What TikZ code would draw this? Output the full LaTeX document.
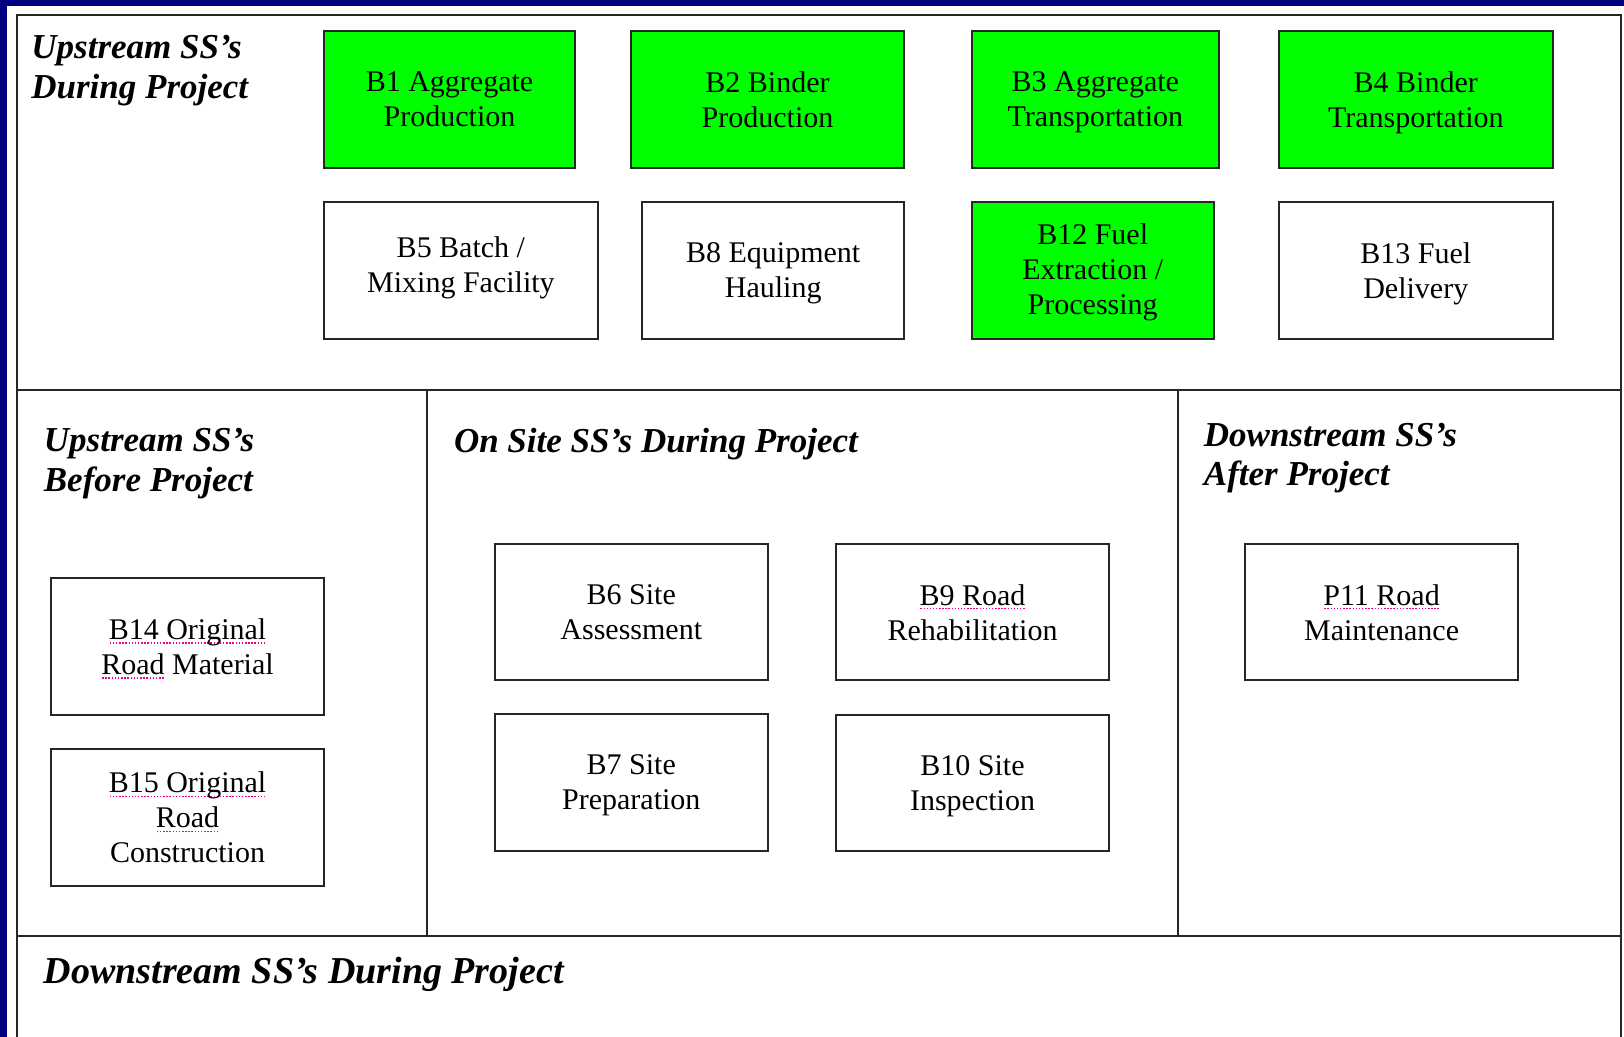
\documentclass[tikz,border=0pt]{standalone}
\usepackage{fontspec}
\setmainfont{Liberation Serif}
\usepackage{tikz}
\usetikzlibrary{calc}

\definecolor{slidenavy}{RGB}{0,0,128}
\definecolor{ssgreen}{RGB}{0,255,0}

% dotted spell-check mark under words
\newsavebox\spellbox
\newcommand\spellmark[1]{\sbox\spellbox{#1}%
	\rlap{\raisebox{-2.2pt}{\textcolor{magenta}{\hbox to\wd\spellbox{\xleaders\hbox{\kern0.4pt\rule{0.75pt}{0.75pt}\kern0.4pt}\hfill}}}}%
	\usebox\spellbox}

\begin{document}
\begin{tikzpicture}[x=0.5pt, y=-0.5pt,
	frame/.style={draw=black!85, line width=1pt},
	ssbox/.style={draw=black!85, line width=1pt, fill=white, align=center,
		minimum height=68.4pt, inner sep=2pt, text depth=0pt,
		font=\fontsize{15}{17.5}\selectfont},
	greenbox/.style={ssbox, fill=ssgreen},
	sstitle/.style={anchor=north west, inner sep=0pt, align=left,
		font=\fontsize{17.5}{19.7}\selectfont\bfseries\itshape}]

	\useasboundingbox (0,0) rectangle (1624,1037);
	\fill[slidenavy] (0,0) rectangle (1624,1037);
	\fill[white] (7,6) rectangle (1624,1037);

	% frame and dividers
	\coordinate (tl) at (17,15);
	\coordinate (tr) at (1621,15);
	\coordinate (bl) at (17,1037);
	\coordinate (br) at (1621,1037);
	\draw[frame] (bl) -- (tl) -- (tr) -- (br);
	\draw[frame] (17,390) -- (1621,390);
	\draw[frame] (17,936) -- (1621,936);
	\draw[frame] (427,390) -- (427,936);
	\draw[frame] (1177.6,390) -- (1177.6,936);

	% upstream during project
	\node[sstitle] (upDur) at (31,35) {Upstream SS’s\\During Project};
	\node[greenbox, minimum width=125.3pt] (b1) at (449.5,99.4) {B1 Aggregate\\Production};
	\node[greenbox, minimum width=136.7pt] (b2) at (767.5,99.4) {B2 Binder\\Production};
	\node[greenbox, minimum width=123.8pt] (b3) at (1095.3,99.4) {B3 Aggregate\\Transportation};
	\node[greenbox, minimum width=136.7pt] (b4) at (1415.8,99.4) {B4 Binder\\Transportation};
	\node[ssbox, minimum width=136.7pt, text depth=6pt] (b5) at (460.9,270.3) {B5 Batch /\\Mixing Facility};
	\node[ssbox, minimum width=131pt] (b8) at (773.2,270.3) {B8 Equipment\\Hauling};
	\node[greenbox, minimum width=121.2pt, text depth=1.5pt] (b12) at (1092.7,270.3) {B12 Fuel\\Extraction /\\Processing};
	\node[ssbox, minimum width=136.7pt] (b13) at (1415.8,270.3) {B13 Fuel\\Delivery};

	% upstream before project
	\node[sstitle] (upBef) at (43.5,428) {Upstream SS’s\\Before Project};
	\node[ssbox, minimum width=136.7pt] (b14) at (187.5,646.3) {\spellmark{B14 Original}\\\spellmark{Road} Material};
	\node[ssbox, minimum width=136.7pt] (b15) at (187.5,817.2) {\spellmark{B15 Original}\\\spellmark{Road}\\Construction};

	% on site
	\node[sstitle] (onSite) at (453.6,428) {On Site SS’s During Project};
	\node[ssbox, minimum width=136.7pt] (b6) at (631.3,612.1) {B6 Site\\Assessment};
	\node[ssbox, minimum width=136.7pt] (b9) at (972.5,612.1) {\spellmark{B9 Road}\\Rehabilitation};
	\node[ssbox, minimum width=136.7pt] (b7) at (631.3,782.5) {B7 Site\\Preparation};
	\node[ssbox, minimum width=136.7pt] (b10) at (972.5,783) {B10 Site\\Inspection};

	% downstream
	\node[sstitle] (dnAft) at (1203.5,422.6) {Downstream SS’s\\After Project};
	\node[ssbox, minimum width=136.7pt] (p11) at (1381.6,612.1) {\spellmark{P11 Road}\\Maintenance};
	\node[sstitle, font=\fontsize{19}{21}\selectfont\bfseries\itshape] (dnDur) at (43.5,957) {Downstream SS’s During Project};

\end{tikzpicture}
\end{document}
